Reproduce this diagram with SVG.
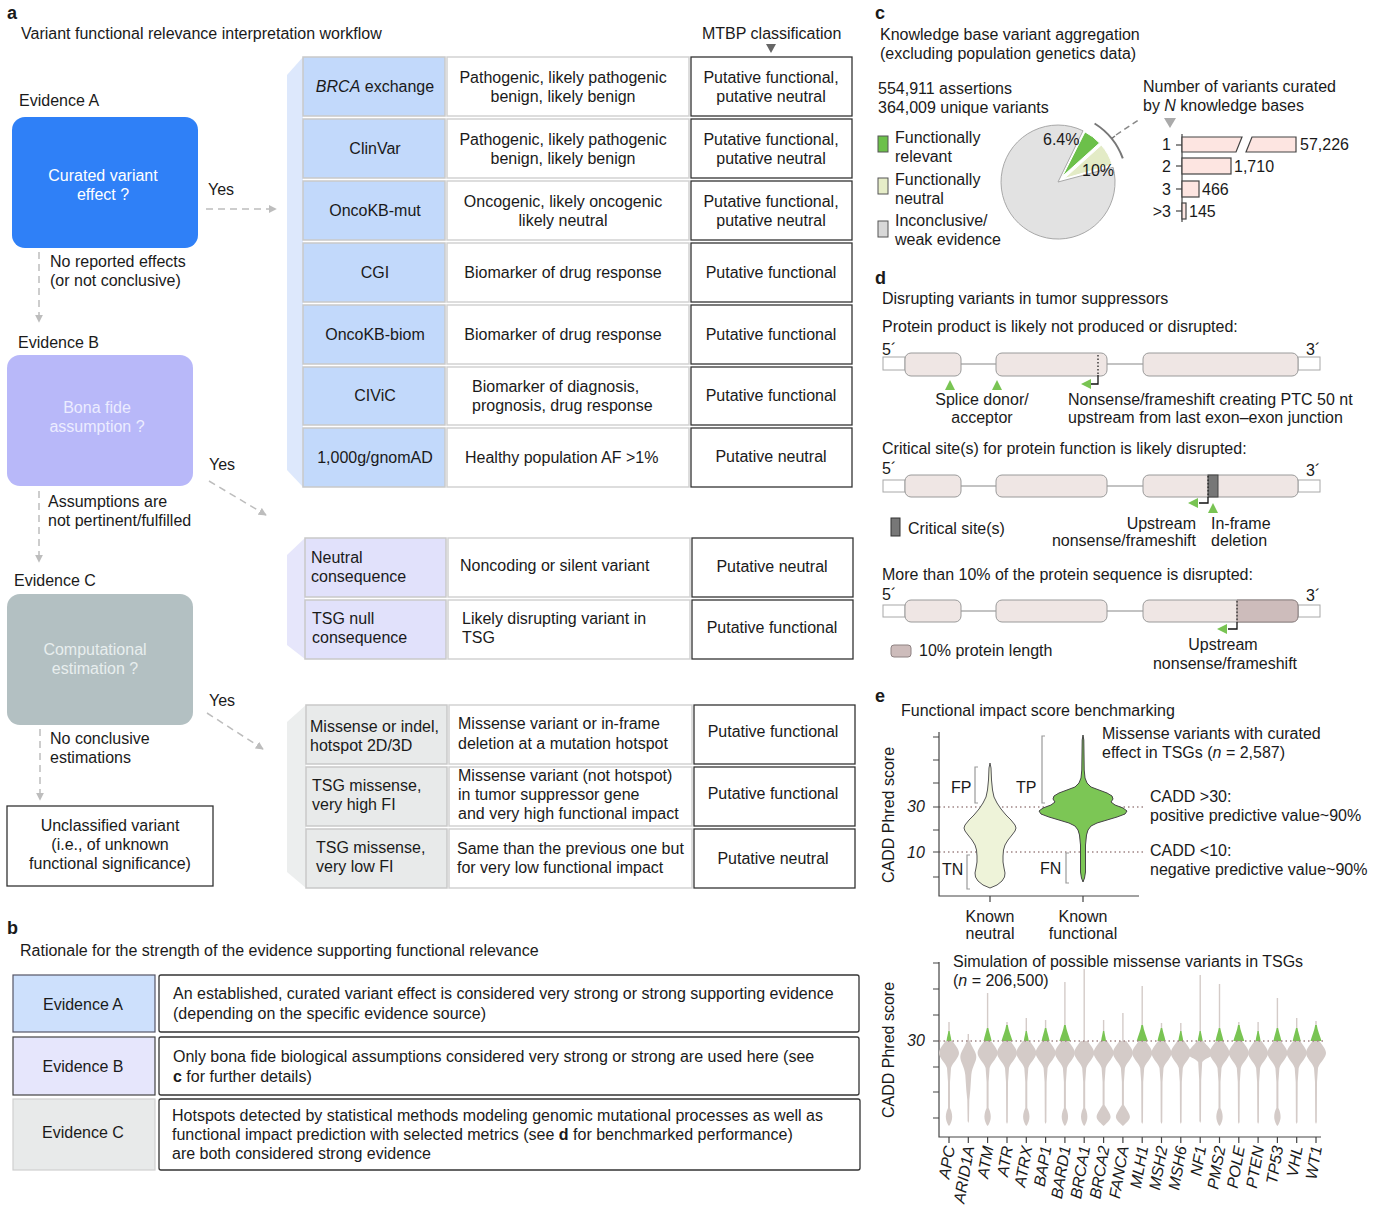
<svg xmlns="http://www.w3.org/2000/svg" width="1381" height="1205" viewBox="0 0 1381 1205">
<style>
text{font-family:"Liberation Sans",Arial,Helvetica,sans-serif;font-size:16px;fill:#1a1a1a}
.pl{font-size:18px;font-weight:bold}
.c{text-anchor:middle}
.e{text-anchor:end}
.i{font-style:italic}
.w{fill:#ffffff}
.c1a{fill:#c2d9fb;stroke:#c9c9c9;stroke-width:1.5}
.c1b{fill:#e1e1fb;stroke:#c9c9c9;stroke-width:1.5}
.c1c{fill:#e8eaea;stroke:#c9c9c9;stroke-width:1.5}
.c2{fill:#ffffff;stroke:#d2d2d2;stroke-width:1.5}
.c3{fill:#ffffff;stroke:#333;stroke-width:1.3}
.dash{fill:none;stroke:#bdbdbd;stroke-width:1.5;stroke-dasharray:7 5}
.ex{fill:#efe6e4;stroke:#9a9a9a;stroke-width:1}
.utr{fill:#ffffff;stroke:#a8a8a8;stroke-width:1}
.intr{stroke:#888;stroke-width:1.2}
.gr{fill:#79c453}
.blk{fill:none;stroke:#111;stroke-width:1.3}
.ax{fill:none;stroke:#444;stroke-width:1.2}
.br{fill:none;stroke:#9a9a9a;stroke-width:1.2}
.dot{stroke:#a08585;stroke-width:1.3;stroke-dasharray:1.5 3}
.vg{fill:#d4cbc8}
.wh{stroke:#d4cbc8;stroke-width:1.4}
</style>
<defs>
<marker id="ah" viewBox="0 0 10 10" refX="9" refY="5" markerWidth="8" markerHeight="8" markerUnits="userSpaceOnUse" orient="auto">
<path d="M0,0 L10,5 L0,10 Z" fill="#bdbdbd"/>
</marker>
<path id="vA" d="M-3.5,1041 C-6,1045 -10,1049 -10,1053 C-10,1058 -4,1062 -2,1068 L-1,1082 L-1,1108 C-3,1112 -3.5,1116 -3,1119 C-2.5,1122 -1,1125 0,1126 C1,1125 2.5,1122 3,1119 C3.5,1116 3,1112 1,1108 L1,1082 L2,1068 C4,1062 10,1058 10,1053 C10,1049 6,1045 3.5,1041 Z"/>
<path id="vB" d="M-3.5,1041 C-6,1045 -10,1049 -10,1053 C-10,1058 -4,1062 -2,1068 L-1,1082 L-0.8,1122 L0,1124 L0.8,1122 L1,1082 L2,1068 C4,1062 10,1058 10,1053 C10,1049 6,1045 3.5,1041 Z"/>
<path id="vC" d="M-3.5,1041 C-6,1045 -10,1049 -10,1053 C-10,1058 -4,1062 -2,1068 L-1,1082 L-1,1105 C-4,1110 -7,1114 -7,1117 C-7,1120 -2,1124 0,1126 C2,1124 7,1120 7,1117 C7,1114 4,1110 1,1105 L1,1082 L2,1068 C4,1062 10,1058 10,1053 C10,1049 6,1045 3.5,1041 Z"/>
<path id="vAR" d="M-1,1040 C-3,1046 -8,1052 -8,1057 C-8,1062 -4,1066 -3,1075 L-2,1090 L-1,1100 L-0.7,1121 L0,1123 L0.7,1121 L1,1100 L2,1090 L3,1075 C4,1066 8,1062 8,1057 C8,1052 3,1046 1,1040 Z"/>
<path id="vNF" d="M-3,1041 C-6,1045 -12,1050 -13,1054 C-12,1057 -5,1058 -2,1062 L-1,1080 L-0.8,1121 L0,1123 L0.8,1121 L1,1080 L2,1062 C5,1058 12,1057 13,1054 C12,1050 6,1045 3,1041 Z"/>
<path id="gL" d="M-5.5,1041 C-4,1036 -1.5,1030 -0.8,1025 L0.8,1025 C1.5,1030 4,1036 5.5,1041 Z"/>
<path id="gM" d="M-4,1041 C-3,1036 -1.2,1031 -0.7,1028 L0.7,1028 C1.2,1031 3,1036 4,1041 Z"/>
<path id="gS" d="M-2.5,1041 C-2,1037 -0.8,1033 -0.6,1031 L0.6,1031 C0.8,1033 2,1037 2.5,1041 Z"/>
</defs>
<rect x="0" y="0" width="1381" height="1205" fill="#ffffff"/>

<!-- Panel a -->
<text class="pl" x="7" y="19">a</text>
<text x="21" y="39">Variant functional relevance interpretation workflow</text>
<text x="702" y="39">MTBP classification</text>
<polygon points="766,44 776,44 771,53" fill="#666"/>

<g id="evidenceA">
<text x="19" y="106">Evidence A</text>
<rect x="12" y="117" width="186" height="131" rx="13" fill="#2f80f7"/>
<text class="c w" x="103" y="181">Curated variant</text>
<text class="c w" x="103" y="200">effect ?</text>
</g>
<g id="evidenceB">
<text x="18" y="348">Evidence B</text>
<rect x="7" y="355" width="186" height="131" rx="13" fill="#b8b8f9"/>
<text class="c" x="97" y="413" style="fill:#ececff">Bona fide</text>
<text class="c" x="97" y="432" style="fill:#ececff">assumption ?</text>
</g>
<g id="evidenceC">
<text x="14" y="586">Evidence C</text>
<rect x="7" y="594" width="186" height="131" rx="13" fill="#b3c0c2"/>
<text class="c" x="95" y="655" style="fill:#e8eeee">Computational</text>
<text class="c" x="95" y="674" style="fill:#e8eeee">estimation ?</text>
</g>
<g id="unclassified">
<rect x="7" y="806" width="206" height="80" fill="#fff" stroke="#333" stroke-width="1.3"/>
<text class="c" x="110" y="831">Unclassified variant</text>
<text class="c" x="110" y="850">(i.e., of unknown</text>
<text class="c" x="110" y="869">functional significance)</text>
</g>

<g id="connectors">
<line class="dash" x1="206" y1="209" x2="276" y2="209" marker-end="url(#ah)"/>
<line class="dash" x1="39" y1="252" x2="39" y2="322" marker-end="url(#ah)"/>
<line class="dash" x1="209" y1="481" x2="266" y2="515" marker-end="url(#ah)"/>
<line class="dash" x1="39" y1="491" x2="39" y2="562" marker-end="url(#ah)"/>
<line class="dash" x1="207" y1="713" x2="263" y2="749" marker-end="url(#ah)"/>
<line class="dash" x1="40" y1="729" x2="40" y2="800" marker-end="url(#ah)"/>
</g>
<g id="connector-labels">
<text x="208" y="195">Yes</text>
<text x="50" y="267">No reported effects</text>
<text x="50" y="286">(or not conclusive)</text>
<text x="209" y="470">Yes</text>
<text x="48" y="507">Assumptions are</text>
<text x="48" y="526">not pertinent/fulfilled</text>
<text x="209" y="706">Yes</text>
<text x="50" y="744">No conclusive</text>
<text x="50" y="763">estimations</text>
</g>

<g id="tableA">
<polygon points="287,75 303,57 303,487 287,470" fill="#dde8fc"/>
<rect class="c1a" x="303" y="57" width="142" height="59"/><rect class="c2" x="447" y="57" width="242" height="59"/><rect class="c3" x="691" y="57" width="161" height="59"/>
<rect class="c1a" x="303" y="119" width="142" height="59"/><rect class="c2" x="447" y="119" width="242" height="59"/><rect class="c3" x="691" y="119" width="161" height="59"/>
<rect class="c1a" x="303" y="181" width="142" height="59"/><rect class="c2" x="447" y="181" width="242" height="59"/><rect class="c3" x="691" y="181" width="161" height="59"/>
<rect class="c1a" x="303" y="243" width="142" height="59"/><rect class="c2" x="447" y="243" width="242" height="59"/><rect class="c3" x="691" y="243" width="161" height="59"/>
<rect class="c1a" x="303" y="305" width="142" height="59"/><rect class="c2" x="447" y="305" width="242" height="59"/><rect class="c3" x="691" y="305" width="161" height="59"/>
<rect class="c1a" x="303" y="367" width="142" height="58"/><rect class="c2" x="447" y="367" width="242" height="58"/><rect class="c3" x="691" y="367" width="161" height="58"/>
<rect class="c1a" x="303" y="428" width="142" height="59"/><rect class="c2" x="447" y="428" width="242" height="59"/><rect class="c3" x="691" y="428" width="161" height="59"/>
<text class="c" x="375" y="92"><tspan class="i">BRCA</tspan> exchange</text>
<text class="c" x="563" y="83">Pathogenic, likely pathogenic</text>
<text class="c" x="563" y="102">benign, likely benign</text>
<text class="c" x="771" y="83">Putative functional,</text>
<text class="c" x="771" y="102">putative neutral</text>
<text class="c" x="375" y="154">ClinVar</text>
<text class="c" x="563" y="145">Pathogenic, likely pathogenic</text>
<text class="c" x="563" y="164">benign, likely benign</text>
<text class="c" x="771" y="145">Putative functional,</text>
<text class="c" x="771" y="164">putative neutral</text>
<text class="c" x="375" y="216">OncoKB-mut</text>
<text class="c" x="563" y="207">Oncogenic, likely oncogenic</text>
<text class="c" x="563" y="226">likely neutral</text>
<text class="c" x="771" y="207">Putative functional,</text>
<text class="c" x="771" y="226">putative neutral</text>
<text class="c" x="375" y="278">CGI</text>
<text class="c" x="563" y="278">Biomarker of drug response</text>
<text class="c" x="771" y="278">Putative functional</text>
<text class="c" x="375" y="340">OncoKB-biom</text>
<text class="c" x="563" y="340">Biomarker of drug response</text>
<text class="c" x="771" y="340">Putative functional</text>
<text class="c" x="375" y="401">CIViC</text>
<text x="472" y="392">Biomarker of diagnosis,</text>
<text x="472" y="411">prognosis, drug response</text>
<text class="c" x="771" y="401">Putative functional</text>
<text class="c" x="375" y="463">1,000g/gnomAD</text>
<text x="465" y="463">Healthy population AF &gt;1%</text>
<text class="c" x="771" y="462">Putative neutral</text>
</g>

<g id="tableB">
<polygon points="287,555 305,538 305,659 287,645" fill="#e6e6fb"/>
<rect class="c1b" x="305" y="538" width="141" height="59"/><rect class="c2" x="448" y="538" width="242" height="59"/><rect class="c3" x="692" y="538" width="161" height="59"/>
<rect class="c1b" x="305" y="600" width="141" height="59"/><rect class="c2" x="448" y="600" width="242" height="59"/><rect class="c3" x="692" y="600" width="161" height="59"/>
<text x="311" y="563">Neutral</text>
<text x="311" y="582">consequence</text>
<text x="460" y="571">Noncoding or silent variant</text>
<text class="c" x="772" y="572">Putative neutral</text>
<text x="312" y="624">TSG null</text>
<text x="312" y="643">consequence</text>
<text x="462" y="624">Likely disrupting variant in</text>
<text x="462" y="643">TSG</text>
<text class="c" x="772" y="633">Putative functional</text>
</g>

<g id="tableC">
<polygon points="287,722 306,705 306,888 287,872" fill="#eceeee"/>
<rect class="c1c" x="306" y="705" width="141" height="59"/><rect class="c2" x="449" y="705" width="243" height="59"/><rect class="c3" x="694" y="705" width="161" height="59"/>
<rect class="c1c" x="306" y="767" width="141" height="59"/><rect class="c2" x="449" y="767" width="243" height="59"/><rect class="c3" x="694" y="767" width="161" height="59"/>
<rect class="c1c" x="306" y="829" width="141" height="59"/><rect class="c2" x="449" y="829" width="243" height="59"/><rect class="c3" x="694" y="829" width="161" height="59"/>
<text x="310" y="732">Missense or indel,</text>
<text x="310" y="751">hotspot 2D/3D</text>
<text x="458" y="729">Missense variant or in-frame</text>
<text x="458" y="749">deletion at a mutation hotspot</text>
<text class="c" x="773" y="737">Putative functional</text>
<text x="312" y="791">TSG missense,</text>
<text x="312" y="810">very high FI</text>
<text x="458" y="781">Missense variant (not hotspot)</text>
<text x="458" y="800">in tumor suppressor gene</text>
<text x="458" y="819">and very high functional impact</text>
<text class="c" x="773" y="799">Putative functional</text>
<text x="316" y="853">TSG missense,</text>
<text x="316" y="872">very low FI</text>
<text x="457" y="854">Same than the previous one but</text>
<text x="457" y="873">for very low functional impact</text>
<text class="c" x="773" y="864">Putative neutral</text>
</g>

<!-- Panel b -->
<g id="panelB">
<text class="pl" x="7" y="934">b</text>
<text x="20" y="956">Rationale for the strength of the evidence supporting functional relevance</text>
<rect x="13" y="975" width="142" height="57" fill="#cde0fc" stroke="#556" stroke-width="1.2"/>
<rect x="159" y="975" width="700" height="57" rx="2" fill="#fff" stroke="#333" stroke-width="1.3"/>
<text class="c" x="83" y="1010">Evidence A</text>
<text x="173" y="999">An established, curated variant effect is considered very strong or strong supporting evidence</text>
<text x="173" y="1019">(depending on the specific evidence source)</text>
<rect x="13" y="1037" width="142" height="58" fill="#e6e6fc" stroke="#444" stroke-width="1.2"/>
<rect x="159" y="1037" width="700" height="58" rx="2" fill="#fff" stroke="#333" stroke-width="1.3"/>
<text class="c" x="83" y="1072">Evidence B</text>
<text x="173" y="1062">Only bona fide biological assumptions considered very strong or strong are used here (see</text>
<text x="173" y="1082"><tspan font-weight="bold">c</tspan> for further details)</text>
<rect x="13" y="1099" width="142" height="71" fill="#e8eaea" stroke="#cfcfcf" stroke-width="1.2"/>
<rect x="159" y="1099" width="701" height="71" rx="2" fill="#fff" stroke="#333" stroke-width="1.3"/>
<text class="c" x="83" y="1138">Evidence C</text>
<text x="172" y="1121">Hotspots detected by statistical methods modeling genomic mutational processes as well as</text>
<text x="172" y="1140">functional impact prediction with selected metrics (see <tspan font-weight="bold">d</tspan> for benchmarked performance)</text>
<text x="172" y="1159">are both considered strong evidence</text>
</g>

<!-- Panel c -->
<g id="panelC">
<text class="pl" x="875" y="19">c</text>
<text x="880" y="40">Knowledge base variant aggregation</text>
<text x="880" y="59">(excluding population genetics data)</text>
<text x="878" y="94">554,911 assertions</text>
<text x="878" y="113">364,009 unique variants</text>
<rect x="878" y="136" width="10" height="16" fill="#6cc04a" stroke="#555" stroke-width="1"/>
<text x="895" y="143">Functionally</text>
<text x="895" y="162">relevant</text>
<rect x="878" y="178" width="10" height="16" fill="#e6edc8" stroke="#555" stroke-width="1"/>
<text x="895" y="185">Functionally</text>
<text x="895" y="204">neutral</text>
<rect x="878" y="221" width="10" height="16" fill="#d8d8d8" stroke="#555" stroke-width="1"/>
<text x="895" y="226">Inconclusive/</text>
<text x="895" y="245">weak evidence</text>
<path d="M1058,182 L1113.1,167.3 A57,57 0 1,1 1083.0,130.8 Z" fill="#e2e2e2" stroke="#a8a8a8" stroke-width="1"/>
<path d="M1062.3,176.5 L1085.0,131.9 A50,50 0 0,1 1099.5,143.0 Z" fill="#6cc04a" stroke="#fff" stroke-width="1"/>
<path d="M1064.1,178.6 L1101.3,145.1 A50,50 0 0,1 1112.2,164.8 Z" fill="#e3ebc6" stroke="#fff" stroke-width="1"/>
<text x="1043" y="145">6.4%</text>
<text x="1082" y="176">10%</text>
<path d="M1094.6,123.5 A69,69 0 0,1 1122.8,158.4" fill="none" stroke="#777" stroke-width="2"/>
<line x1="1111.6" y1="138.6" x2="1115" y2="136" stroke="#777" stroke-width="1.5"/>
<line x1="1116" y1="135" x2="1140" y2="119" stroke="#888" stroke-width="1.5" stroke-dasharray="6 4"/>
<text x="1143" y="92">Number of variants curated</text>
<text x="1143" y="111">by <tspan class="i">N</tspan> knowledge bases</text>
<polygon points="1164,118 1176,118 1170,128" fill="#aaa"/>
<line class="ax" x1="1182" y1="134" x2="1182" y2="222"/>
<line class="ax" x1="1176" y1="145" x2="1182" y2="145"/>
<line class="ax" x1="1176" y1="166" x2="1182" y2="166"/>
<line class="ax" x1="1176" y1="189" x2="1182" y2="189"/>
<line class="ax" x1="1176" y1="211" x2="1182" y2="211"/>
<text class="e" x="1171" y="150">1</text>
<text class="e" x="1171" y="172">2</text>
<text class="e" x="1171" y="195">3</text>
<text class="e" x="1171" y="217">&gt;3</text>
<polygon points="1182,137 1242,137 1236,152 1182,152" fill="#fde5e1" stroke="#444" stroke-width="1.2"/>
<polygon points="1252,137 1296,137 1296,152 1246,152" fill="#fde5e1" stroke="#444" stroke-width="1.2"/>
<rect x="1182" y="158" width="49" height="16" fill="#fde5e1" stroke="#444" stroke-width="1.2"/>
<rect x="1182" y="181" width="17" height="16" fill="#fde5e1" stroke="#444" stroke-width="1.2"/>
<rect x="1182" y="203" width="4" height="16" fill="#fde5e1" stroke="#444" stroke-width="1.2"/>
<text x="1300" y="150">57,226</text>
<text x="1234" y="172">1,710</text>
<text x="1202" y="195">466</text>
<text x="1189" y="217">145</text>
</g>

<!-- Panel d -->
<g id="panelD">
<text class="pl" x="875" y="284">d</text>
<text x="882" y="304">Disrupting variants in tumor suppressors</text>
<text x="882" y="332">Protein product is likely not produced or disrupted:</text>
<text x="882" y="355">5´</text>
<text x="1306" y="355">3´</text>
<line class="intr" x1="961" y1="364" x2="996" y2="364"/>
<line class="intr" x1="1107" y1="364" x2="1143" y2="364"/>
<rect class="utr" x="883" y="357" width="22" height="13"/>
<rect class="utr" x="1298" y="357" width="22" height="13"/>
<rect class="ex" x="905" y="353" width="56" height="23" rx="6"/>
<rect class="ex" x="996" y="353" width="111" height="23" rx="6"/>
<rect class="ex" x="1143" y="353" width="155" height="23" rx="6"/>
<line x1="1098" y1="355" x2="1098" y2="375" stroke="#111" stroke-width="1.2" stroke-dasharray="1.5 2"/>
<polygon class="gr" points="950,380 945,390 955,390"/>
<polygon class="gr" points="997,380 992,390 1002,390"/>
<path class="blk" d="M1098,375 L1098,384 L1090,384"/>
<polygon class="gr" points="1081,384 1091,379 1091,389"/>
<text class="c" x="982" y="405">Splice donor/</text>
<text class="c" x="982" y="423">acceptor</text>
<text x="1068" y="405">Nonsense/frameshift creating PTC 50 nt</text>
<text x="1068" y="423">upstream from last exon–exon junction</text>

<text x="882" y="454">Critical site(s) for protein function is likely disrupted:</text>
<text x="882" y="474">5´</text>
<text x="1306" y="476">3´</text>
<line class="intr" x1="961" y1="486" x2="996" y2="486"/>
<line class="intr" x1="1107" y1="486" x2="1143" y2="486"/>
<rect class="utr" x="883" y="480" width="22" height="12"/>
<rect class="utr" x="1298" y="480" width="22" height="12"/>
<rect class="ex" x="905" y="475" width="56" height="22" rx="6"/>
<rect class="ex" x="996" y="475" width="111" height="22" rx="6"/>
<rect class="ex" x="1143" y="475" width="155" height="22" rx="6"/>
<rect x="1208" y="475" width="10" height="22" fill="#777" stroke="#444" stroke-width="1"/>
<line x1="1208" y1="476" x2="1208" y2="496" stroke="#111" stroke-width="1" stroke-dasharray="1.5 2"/>
<path class="blk" d="M1208,497 L1208,503 L1199,503"/>
<polygon class="gr" points="1188,503 1198,498 1198,508"/>
<polygon class="gr" points="1213,503 1208,513 1218,513"/>
<rect x="891" y="518" width="9" height="18" fill="#777" stroke="#333" stroke-width="1"/>
<text x="908" y="534">Critical site(s)</text>
<text class="e" x="1196" y="529">Upstream</text>
<text class="e" x="1196" y="546">nonsense/frameshift</text>
<text x="1211" y="529">In-frame</text>
<text x="1211" y="546">deletion</text>

<text x="882" y="580">More than 10% of the protein sequence is disrupted:</text>
<text x="882" y="600">5´</text>
<text x="1306" y="601">3´</text>
<line class="intr" x1="961" y1="611" x2="996" y2="611"/>
<line class="intr" x1="1107" y1="611" x2="1143" y2="611"/>
<rect class="utr" x="883" y="605" width="22" height="12"/>
<rect class="utr" x="1298" y="605" width="22" height="12"/>
<rect class="ex" x="905" y="600" width="56" height="22" rx="6"/>
<rect class="ex" x="996" y="600" width="111" height="22" rx="6"/>
<rect class="ex" x="1143" y="600" width="155" height="22" rx="6"/>
<path d="M1237,600 L1292,600 Q1298,600 1298,606 L1298,616 Q1298,622 1292,622 L1237,622 Z" fill="#cdbcbb" stroke="#8e8282" stroke-width="1"/>
<line x1="1237" y1="601" x2="1237" y2="621" stroke="#111" stroke-width="1" stroke-dasharray="1.5 2"/>
<path class="blk" d="M1237,622 L1237,629 L1228,629"/>
<polygon class="gr" points="1217,629 1227,624 1227,634"/>
<rect x="891" y="645" width="20" height="12" rx="3" fill="#cdbcbb" stroke="#8e8282" stroke-width="1"/>
<text x="919" y="656">10% protein length</text>
<text class="c" x="1223" y="650">Upstream</text>
<text class="c" x="1225" y="669">nonsense/frameshift</text>
</g>

<!-- Panel e -->
<g id="panelE">
<text class="pl" x="875" y="702">e</text>
<text x="901" y="716">Functional impact score benchmarking</text>
<text class="c" transform="translate(894,815) rotate(-90)">CADD Phred score</text>
<line class="dot" x1="939" y1="807" x2="1143" y2="807"/>
<line class="dot" x1="939" y1="852" x2="1143" y2="852"/>
<path class="ax" d="M939,732 L939,896 L1139,896"/>
<path class="ax" d="M933,737 L939,737 M933,760 L939,760 M933,783 L939,783 M933,807 L939,807 M933,830 L939,830 M933,852 L939,852 M933,877 L939,877 M990,896 L990,902 M1083,896 L1083,902"/>
<text class="i" x="907" y="812">30</text>
<text class="i" x="907" y="858">10</text>
<path d="M990,763 L991,768 L991.5,780 L992.5,790 L994,797 L997,803 L1001,809 L1006,815 L1011,820 L1015,825 L1016,828 L1015,831 L1012,835 L1008,840 L1005,845 L1003.5,850 L1003,856 L1003,862 L1004,868 L1005,873 L1004.5,877 L1002,881 L997,885 L990,888 L983,885 L978,881 L975.5,877 L975,873 L976,868 L977,862 L977,856 L976.5,850 L975,845 L972,840 L968,835 L965,831 L964,828 L965,825 L969,820 L974,815 L979,809 L983,803 L986,797 L987.5,790 L988.5,780 L989,768 Z" fill="#eef3d9" stroke="#555" stroke-width="1" stroke-linejoin="round"/>
<path d="M1083,735 L1083.8,740 L1084.2,770 L1085,778 L1087,783 L1091,787 L1099,790 L1107,793 L1112,796 L1113,799 L1111,802 L1115,805 L1123,808 L1127,811 L1125,814 L1117,817 L1107,820 L1097,823 L1091,826 L1088,830 L1086.5,835 L1085.5,845 L1085.5,865 L1085.5,872 L1084.5,878 L1083,882 L1081.5,878 L1080.5,872 L1080.5,865 L1080.5,845 L1079.5,835 L1078,830 L1075,826 L1069,823 L1059,820 L1049,817 L1041,814 L1039,811 L1043,808 L1051,805 L1055,802 L1053,799 L1054,796 L1059,793 L1067,790 L1075,787 L1079,783 L1081,778 L1081.8,770 L1082.2,740 Z" fill="#7cc655" stroke="#444" stroke-width="1" stroke-linejoin="round"/>
<path class="br" d="M978,767 L975,767 L975,803 L978,803"/>
<path class="br" d="M1045,736 L1042,736 L1042,803 L1045,803"/>
<path class="br" d="M970,855 L967,855 L967,889 L970,889"/>
<path class="br" d="M1069,853 L1066,853 L1066,883 L1069,883"/>
<text x="951" y="793">FP</text>
<text x="1016" y="793">TP</text>
<text x="942" y="875">TN</text>
<text x="1040" y="874">FN</text>
<text class="c" x="990" y="922">Known</text>
<text class="c" x="990" y="939">neutral</text>
<text class="c" x="1083" y="922">Known</text>
<text class="c" x="1083" y="939">functional</text>
<text x="1102" y="739">Missense variants with curated</text>
<text x="1102" y="758">effect in TSGs (<tspan class="i">n</tspan> = 2,587)</text>
<text x="1150" y="802">CADD &gt;30:</text>
<text x="1150" y="821">positive predictive value~90%</text>
<text x="1150" y="856">CADD &lt;10:</text>
<text x="1150" y="875">negative predictive value~90%</text>

<text class="c" transform="translate(894,1050) rotate(-90)">CADD Phred score</text>
<text x="953" y="967">Simulation of possible missense variants in TSGs</text>
<text x="953" y="986">(<tspan class="i">n</tspan> = 206,500)</text>
<path class="ax" d="M939,962 L939,1137 L1321,1137"/>
<path class="ax" d="M933,963 L939,963 M933,989 L939,989 M933,1015 L939,1015 M933,1041 L939,1041 M933,1067 L939,1067 M933,1092 L939,1092 M933,1118 L939,1118"/>
<text class="i" x="907" y="1046">30</text>
<g id="violins">
<line class="wh" x1="949" y1="1022" x2="949" y2="1041"/><use href="#vA" x="949" class="vg"/><use href="#gS" x="949" class="gr"/>
<line class="wh" x1="968.3" y1="1034" x2="968.3" y2="1041"/><use href="#vAR" x="968.3" class="vg"/>
<line class="wh" x1="987.6" y1="993" x2="987.6" y2="1041"/><use href="#vA" x="987.6" class="vg"/><use href="#gM" x="987.6" class="gr"/>
<line class="wh" x1="1007" y1="1022" x2="1007" y2="1041"/><use href="#vB" x="1007" class="vg"/><use href="#gL" x="1007" class="gr"/>
<line class="wh" x1="1026.3" y1="1018" x2="1026.3" y2="1041"/><use href="#vA" x="1026.3" class="vg"/><use href="#gS" x="1026.3" class="gr"/>
<line class="wh" x1="1045.6" y1="1020" x2="1045.6" y2="1041"/><use href="#vB" x="1045.6" class="vg"/><use href="#gM" x="1045.6" class="gr"/>
<line class="wh" x1="1064.9" y1="982" x2="1064.9" y2="1041"/><use href="#vA" x="1064.9" class="vg"/><use href="#gL" x="1064.9" class="gr"/>
<line class="wh" x1="1084.2" y1="969" x2="1084.2" y2="1041"/><use href="#vA" x="1084.2" class="vg"/>
<line class="wh" x1="1103.6" y1="1020" x2="1103.6" y2="1041"/><use href="#vC" x="1103.6" class="vg"/><use href="#gS" x="1103.6" class="gr"/>
<line class="wh" x1="1122.9" y1="1013" x2="1122.9" y2="1041"/><use href="#vC" x="1122.9" class="vg"/>
<line class="wh" x1="1142.2" y1="986" x2="1142.2" y2="1041"/><use href="#vB" x="1142.2" class="vg"/><use href="#gL" x="1142.2" class="gr"/>
<line class="wh" x1="1161.5" y1="1023" x2="1161.5" y2="1041"/><use href="#vB" x="1161.5" class="vg"/><use href="#gM" x="1161.5" class="gr"/>
<line class="wh" x1="1180.8" y1="1023" x2="1180.8" y2="1041"/><use href="#vB" x="1180.8" class="vg"/><use href="#gS" x="1180.8" class="gr"/>
<line class="wh" x1="1200.2" y1="975" x2="1200.2" y2="1041"/><use href="#vNF" x="1200.2" class="vg"/><use href="#gS" x="1200.2" class="gr"/>
<line class="wh" x1="1219.5" y1="984" x2="1219.5" y2="1041"/><use href="#vA" x="1219.5" class="vg"/><use href="#gM" x="1219.5" class="gr"/>
<line class="wh" x1="1238.8" y1="1022" x2="1238.8" y2="1041"/><use href="#vB" x="1238.8" class="vg"/><use href="#gL" x="1238.8" class="gr"/>
<line class="wh" x1="1258.1" y1="1022" x2="1258.1" y2="1041"/><use href="#vB" x="1258.1" class="vg"/><use href="#gS" x="1258.1" class="gr"/>
<line class="wh" x1="1277.4" y1="998" x2="1277.4" y2="1041"/><use href="#vA" x="1277.4" class="vg"/><use href="#gM" x="1277.4" class="gr"/>
<line class="wh" x1="1296.7" y1="1018" x2="1296.7" y2="1041"/><use href="#vB" x="1296.7" class="vg"/><use href="#gM" x="1296.7" class="gr"/>
<line class="wh" x1="1316" y1="1021" x2="1316" y2="1041"/><use href="#vB" x="1316" class="vg"/><use href="#gL" x="1316" class="gr"/>
</g>
<line class="dot" x1="939" y1="1041" x2="1325" y2="1041"/>
<path class="ax" d="M949,1137 v6 M968.3,1137 v6 M987.6,1137 v6 M1007,1137 v6 M1026.3,1137 v6 M1045.6,1137 v6 M1064.9,1137 v6 M1084.2,1137 v6 M1103.6,1137 v6 M1122.9,1137 v6 M1142.2,1137 v6 M1161.5,1137 v6 M1180.8,1137 v6 M1200.2,1137 v6 M1219.5,1137 v6 M1238.8,1137 v6 M1258.1,1137 v6 M1277.4,1137 v6 M1296.7,1137 v6 M1316,1137 v6"/>
<g class="genes">
<text class="e i" transform="translate(955,1147) rotate(-80)">APC</text>
<text class="e i" transform="translate(974.3,1147) rotate(-80)">ARID1A</text>
<text class="e i" transform="translate(993.6,1147) rotate(-80)">ATM</text>
<text class="e i" transform="translate(1013,1147) rotate(-80)">ATR</text>
<text class="e i" transform="translate(1032.3,1147) rotate(-80)">ATRX</text>
<text class="e i" transform="translate(1051.6,1147) rotate(-80)">BAP1</text>
<text class="e i" transform="translate(1070.9,1147) rotate(-80)">BARD1</text>
<text class="e i" transform="translate(1090.2,1147) rotate(-80)">BRCA1</text>
<text class="e i" transform="translate(1109.6,1147) rotate(-80)">BRCA2</text>
<text class="e i" transform="translate(1128.9,1147) rotate(-80)">FANCA</text>
<text class="e i" transform="translate(1148.2,1147) rotate(-80)">MLH1</text>
<text class="e i" transform="translate(1167.5,1147) rotate(-80)">MSH2</text>
<text class="e i" transform="translate(1186.8,1147) rotate(-80)">MSH6</text>
<text class="e i" transform="translate(1206.2,1147) rotate(-80)">NF1</text>
<text class="e i" transform="translate(1225.5,1147) rotate(-80)">PMS2</text>
<text class="e i" transform="translate(1244.8,1147) rotate(-80)">POLE</text>
<text class="e i" transform="translate(1264.1,1147) rotate(-80)">PTEN</text>
<text class="e i" transform="translate(1283.4,1147) rotate(-80)">TP53</text>
<text class="e i" transform="translate(1302.7,1147) rotate(-80)">VHL</text>
<text class="e i" transform="translate(1322,1147) rotate(-80)">WT1</text>
</g>
</g>
</svg>
